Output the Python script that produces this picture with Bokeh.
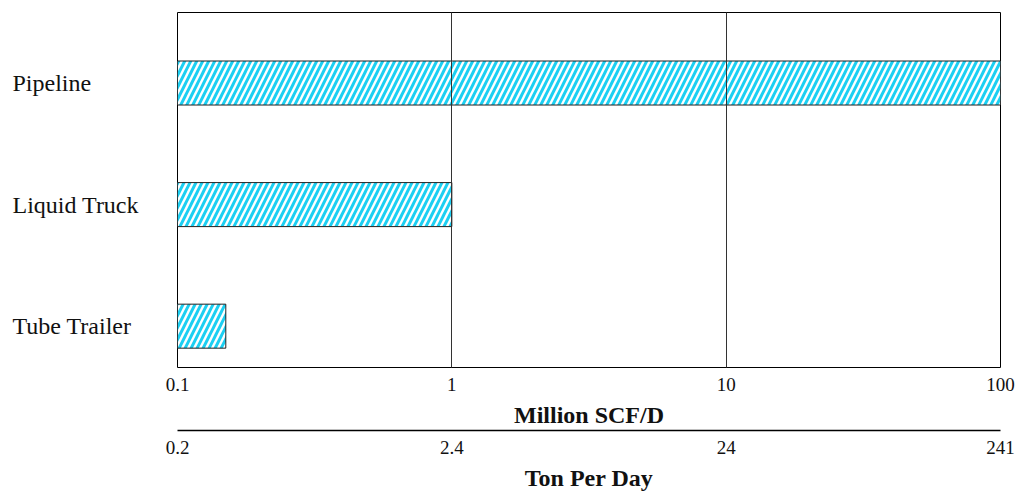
from bokeh.plotting import figure
from bokeh.layouts import row
from bokeh.models import (Range1d, LogAxis, FixedTicker, ColumnDataSource, LogScale)
from bokeh.embed import file_html
from bokeh.resources import INLINE

# ---- data ----
categories = ["Tube Trailer", "Liquid Truck", "Pipeline"]
capacity_mmscfd = [0.15, 1.0, 100.0]          # Million SCF/D (bar right end)
bar_start = 0.1
scf_ticks = [0.1, 1, 10, 100]
scf_labels = ["0.1", "1", "10", "100"]
ton_ticks = [0.241, 2.41, 24.1, 241]
ton_labels = ["0.2", "2.4", "24", "241"]

FONT = "Liberation Serif"
H = 493
TOP = 12
BOTTOM = 126

y_range = Range1d(-0.34, 2.58)
idx = list(range(len(categories)))
src = ColumnDataSource(dict(y=idx, right=capacity_mmscfd,
                            left=[bar_start] * len(categories),
                            name=categories, x0=[0] * len(categories)))

# ---- left panel with category labels (left aligned) ----
lp = figure(width=163, height=H, x_range=Range1d(0, 1), y_range=y_range,
            output_backend="svg", toolbar_location=None,
            min_border_left=0, min_border_right=0,
            min_border_top=TOP, min_border_bottom=BOTTOM)
lp.axis.visible = False
lp.grid.visible = False
lp.outline_line_color = None
lp.background_fill_color = "white"
lp.border_fill_color = "white"
lp.text(x="x0", y="y", text="name", source=src, x_offset=12,
        text_font=FONT, text_font_size="24px", text_color="#111111",
        text_align="left", text_baseline="middle")

# ---- main chart ----
p = figure(width=855, height=H, x_axis_type="log",
           x_range=Range1d(scf_ticks[0], scf_ticks[-1]),
           y_range=y_range,
           output_backend="svg", toolbar_location=None,
           min_border_left=14, min_border_right=18, min_border_top=TOP,
           min_border_bottom=BOTTOM)

p.outline_line_color = "black"
p.outline_line_width = 1
p.background_fill_color = "white"
p.border_fill_color = "white"

p.hbar(y="y", left="left", right="right", height=0.362, source=src,
       fill_color="white", hatch_pattern="right_diagonal_line",
       hatch_color="#1ccff2", hatch_scale=12, hatch_weight=3,
       line_color="#222222", line_width=1)

# grid
p.ygrid.visible = False
p.xgrid.ticker = FixedTicker(ticks=scf_ticks)
p.xgrid.grid_line_color = "#333333"
p.xgrid.grid_line_width = 1
p.xgrid.level = "overlay"

p.yaxis.visible = False

# primary x axis
ax = p.xaxis[0]
ax.ticker = FixedTicker(ticks=scf_ticks)
ax.major_label_overrides = {t: l for t, l in zip(scf_ticks, scf_labels)}
ax.axis_label = "Million SCF/D"
ax.axis_line_color = None
ax.major_tick_line_color = None
ax.minor_tick_line_color = None
ax.major_tick_out = 0
ax.minor_tick_out = 0
ax.major_label_standoff = 10
ax.major_label_text_font = FONT
ax.major_label_text_font_size = "19px"
ax.major_label_text_color = "#111111"
ax.axis_label_text_font = FONT
ax.axis_label_text_font_size = "24px"
ax.axis_label_text_font_style = "bold"
ax.axis_label_text_color = "#111111"
ax.axis_label_standoff = 8

# secondary x axis (Ton Per Day)
p.extra_x_ranges = {"ton": Range1d(ton_ticks[0], ton_ticks[-1])}
p.extra_x_scales = {"ton": LogScale()}
ax2 = LogAxis(x_range_name="ton", ticker=FixedTicker(ticks=ton_ticks))
ax2.major_label_overrides = {t: l for t, l in zip(ton_ticks, ton_labels)}
ax2.axis_label = "Ton Per Day"
ax2.axis_line_color = "black"
ax2.axis_line_width = 1.5
ax2.major_tick_line_color = None
ax2.minor_tick_line_color = None
ax2.major_tick_out = 0
ax2.minor_tick_out = 0
ax2.major_label_standoff = 10
ax2.major_label_text_font = FONT
ax2.major_label_text_font_size = "19px"
ax2.major_label_text_color = "#111111"
ax2.axis_label_text_font = FONT
ax2.axis_label_text_font_size = "24px"
ax2.axis_label_text_font_style = "bold"
ax2.axis_label_text_color = "#111111"
ax2.axis_label_standoff = 8
p.add_layout(ax2, "below")

layout = row(lp, p, spacing=0)
open("out.html", "w").write(file_html(layout, INLINE))
